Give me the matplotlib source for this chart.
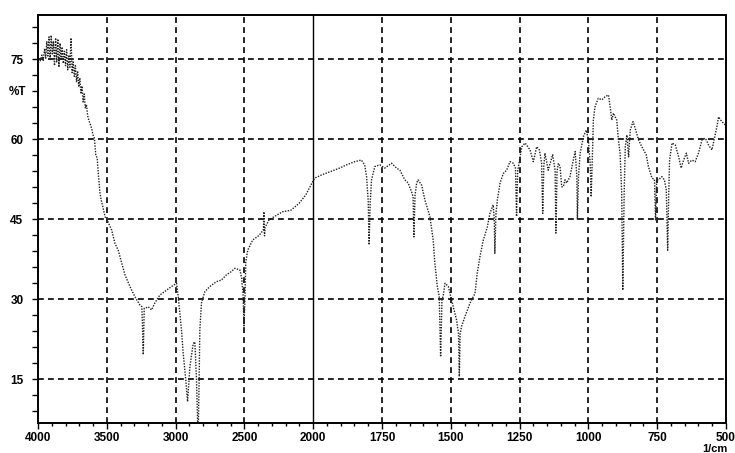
import numpy as np
import matplotlib
matplotlib.use("Agg")
import matplotlib.pyplot as plt
from matplotlib.ticker import FixedLocator, NullFormatter

plt.rcParams['font.family'] = ['Liberation Sans Narrow', 'Liberation Sans', 'DejaVu Sans']

# ---- data: wavenumber (1/cm) and %T ----
wavenumber = [
    4000, 3985, 3972, 3962, 3952, 3944, 3936, 3928, 3920, 3912, 3904, 3896, 3888, 3880,
    3872, 3864, 3856, 3848, 3840, 3832, 3824, 3816, 3808, 3800, 3792, 3784, 3776, 3768,
    3760, 3752, 3744, 3736, 3728, 3720, 3712, 3704, 3696, 3688, 3680, 3672, 3664, 3656,
    3648, 3640, 3630, 3620, 3610, 3600, 3590, 3580, 3570, 3560, 3550, 3540, 3530, 3520,
    3510, 3500, 3465, 3441, 3417, 3392, 3368, 3332, 3296, 3259, 3245, 3235, 3228, 3223,
    3199, 3175, 3151, 3114, 3066, 3029, 2993, 2981, 2957, 2945, 2926, 2913, 2896, 2872,
    2860, 2848, 2841, 2838, 2834, 2829, 2824, 2812, 2788, 2751, 2703, 2667, 2630, 2594,
    2570, 2533, 2520, 2510, 2503, 2496, 2490, 2476, 2440, 2392, 2362, 2358, 2354, 2350,
    2320, 2283, 2223, 2162, 2102, 2053, 2017, 1995, 1970, 1940, 1904, 1879, 1849, 1825,
    1813, 1806, 1800, 1797, 1793, 1788, 1776, 1758, 1740, 1715, 1697, 1685, 1667, 1655,
    1643, 1637, 1634, 1630, 1624, 1619, 1606, 1594, 1576, 1564, 1558, 1549, 1542, 1537,
    1532, 1528, 1521, 1509, 1503, 1491, 1479, 1472, 1469, 1466, 1461, 1449, 1430, 1412,
    1404, 1394, 1382, 1367, 1358, 1346, 1342, 1340, 1336, 1331, 1321, 1309, 1297, 1285,
    1273, 1265, 1261, 1257, 1242, 1230, 1212, 1200, 1188, 1178, 1170, 1166, 1162, 1158,
    1146, 1130, 1121, 1118, 1114, 1109, 1103, 1097, 1091, 1085, 1079, 1067, 1055, 1048,
    1042, 1040, 1036, 1030, 1018, 1008, 1000, 993, 990, 986, 982, 976, 964, 951,
    939, 927, 921, 915, 909, 897, 891, 885, 879, 875, 870, 866, 860, 854,
    848, 838, 830, 818, 806, 790, 782, 769, 760, 756, 752, 745, 733, 724,
    717, 712, 708, 705, 696, 684, 672, 663, 654, 644, 636, 624, 612, 600,
    587, 575, 563, 551, 545, 533, 527, 515, 503, 500,
]
transmittance = [
    74.3, 74.6, 75.8, 74.8, 77.0, 75.2, 78.3, 75.6, 79.2, 74.8, 79.5, 76.0, 78.4, 73.8,
    79.0, 74.5, 78.8, 73.5, 78.0, 75.0, 77.3, 74.2, 76.5, 73.8, 76.8, 73.0, 75.8, 73.5,
    79.0, 72.5, 74.5, 71.8, 73.8, 70.8, 72.8, 69.8, 71.5, 68.5, 70.0, 67.0, 68.5, 65.8,
    66.5, 64.5, 63.5, 62.8, 62.0, 60.8, 60.2, 57.0, 56.5, 53.0, 50.0, 48.5, 47.5, 46.3,
    45.3, 45.0, 43.0, 40.5, 39.2, 36.8, 34.6, 32.4, 30.5, 28.9, 28.6, 19.6, 28.3, 28.3,
    28.6, 28.0, 29.3, 30.8, 31.7, 32.4, 33.0, 30.5, 24.2, 19.9, 14.9, 10.8, 17.4, 21.7,
    22.0, 14.9, 7.4, 5.0, 7.4, 14.9, 24.2, 29.3, 31.4, 32.4, 33.3, 33.6, 34.6, 35.2,
    35.8, 35.5, 34.0, 31.0, 25.0, 30.0, 37.0, 39.2, 41.1, 42.0, 43.0, 46.4, 41.9, 43.5,
    44.9, 45.5, 46.4, 46.7, 48.0, 49.6, 51.4, 52.7, 53.3, 53.9, 54.6, 55.2, 55.8, 56.1,
    55.2, 53.0, 48.3, 40.2, 48.0, 52.4, 54.9, 55.2, 54.6, 55.5, 54.6, 54.2, 52.4, 51.8,
    50.2, 49.2, 41.7, 49.5, 51.8, 52.4, 51.4, 48.6, 45.5, 41.1, 36.8, 32.4, 30.5, 19.2,
    30.0, 30.5, 33.0, 32.4, 31.1, 28.6, 26.1, 23.6, 15.5, 23.5, 24.9, 26.7, 29.3, 31.1,
    34.9, 38.0, 41.1, 43.6, 46.1, 47.7, 45.0, 38.6, 46.0, 48.6, 51.8, 53.6, 54.2, 55.8,
    55.5, 54.6, 45.5, 54.0, 58.6, 59.3, 58.0, 55.8, 58.6, 58.0, 55.5, 46.1, 55.0, 57.4,
    54.2, 57.1, 54.2, 42.4, 54.0, 55.5, 54.9, 51.1, 51.1, 52.4, 51.8, 53.0, 56.1, 57.7,
    53.0, 44.9, 53.0, 57.4, 60.5, 61.7, 59.9, 55.0, 49.2, 56.0, 63.6, 66.1, 67.7, 67.4,
    68.0, 68.3, 66.1, 63.6, 64.9, 63.6, 59.9, 57.4, 50.0, 31.7, 50.0, 58.6, 60.8, 56.7,
    61.7, 63.3, 62.1, 59.9, 58.6, 57.1, 54.9, 52.7, 52.5, 44.9, 52.4, 52.4, 53.0, 52.4,
    50.5, 39.2, 50.0, 56.1, 59.3, 58.9, 56.7, 54.6, 56.1, 57.4, 55.5, 56.1, 55.8, 57.4,
    59.9, 60.2, 58.9, 58.0, 59.5, 62.4, 64.2, 63.3, 62.7, 63.0,
]

x_major = [4000, 3500, 3000, 2500, 2000, 1750, 1500, 1250, 1000, 750, 500]
x_labels = ['4000', '3500', '3000', '2500', '2000', '1750', '1500', '1250', '1000', '750', '500']
y_major = [15, 30, 45, 60, 75]
y_labels = ['15', '30', '45', '60', '75']


# piecewise wavenumber scale: 2x expansion below 2000 1/cm
def fwd(x):
    x = np.asarray(x, dtype=float)
    return np.where(x >= 2000, x, 2 * x - 2000)


def inv(u):
    u = np.asarray(u, dtype=float)
    return np.where(u >= 2000, u, (u + 2000) / 2)


W, H = 735, 453
fig = plt.figure(figsize=(W / 100, H / 100), dpi=100)
ax = fig.add_axes([38 / W, 1 - 423 / H, (726 - 38) / W, (423 - 15) / H])
ax.set_xscale('function', functions=(fwd, inv))
ax.set_xlim(4000, 500)
ax.set_ylim(6.8, 83.3)

# grid
for gx in x_major[1:-1]:
    if gx == 2000:
        ax.axvline(gx, color='black', lw=1.0, zorder=1)
    else:
        ax.axvline(gx, color='black', lw=1.2, ls=(0, (3.5, 2.5)), zorder=1)
for gy in y_major:
    ax.axhline(gy, color='black', lw=1.2, ls=(0, (3.5, 2.5)), zorder=1)

# spectrum trace
ax.plot(wavenumber, transmittance, color='#222222', lw=1.0, ls=(0, (1, 1.0)), zorder=3)

# ticks
ax.xaxis.set_major_locator(FixedLocator(x_major))
ax.set_xticklabels(x_labels)
x_minor = [v for v in range(3900, 2000, -100) if v % 500] + [v for v in range(1950, 500, -50) if v % 250]
ax.xaxis.set_minor_locator(FixedLocator(x_minor))
ax.xaxis.set_minor_formatter(NullFormatter())
ax.yaxis.set_major_locator(FixedLocator(y_major))
ax.set_yticklabels(y_labels)
y_minor = [v for v in range(9, 83, 3) if v % 15]
ax.yaxis.set_minor_locator(FixedLocator(y_minor))
ax.yaxis.set_minor_formatter(NullFormatter())

ax.tick_params(axis='x', which='major', direction='out', length=4, width=1.0, pad=2.2,
               labelsize=8.5)
ax.tick_params(axis='x', which='minor', direction='out', length=2.5, width=1.0)
ax.tick_params(axis='y', which='both', direction='out', length=4.5, width=1.0, pad=6,
               labelsize=8.5)
for lab in ax.get_xticklabels() + ax.get_yticklabels():
    lab.set_fontweight('bold')

for s in ax.spines.values():
    s.set_linewidth(1.4)

fig.text(9 / W, 1 - 92 / H, '%T', fontsize=8.5, fontweight='bold', va='center', ha='left')
fig.text(728 / W, 1 - 448.5 / H, '1/cm', fontsize=8, fontweight='bold', va='center', ha='right')

fig.savefig('out.png', dpi=100, facecolor='white')
